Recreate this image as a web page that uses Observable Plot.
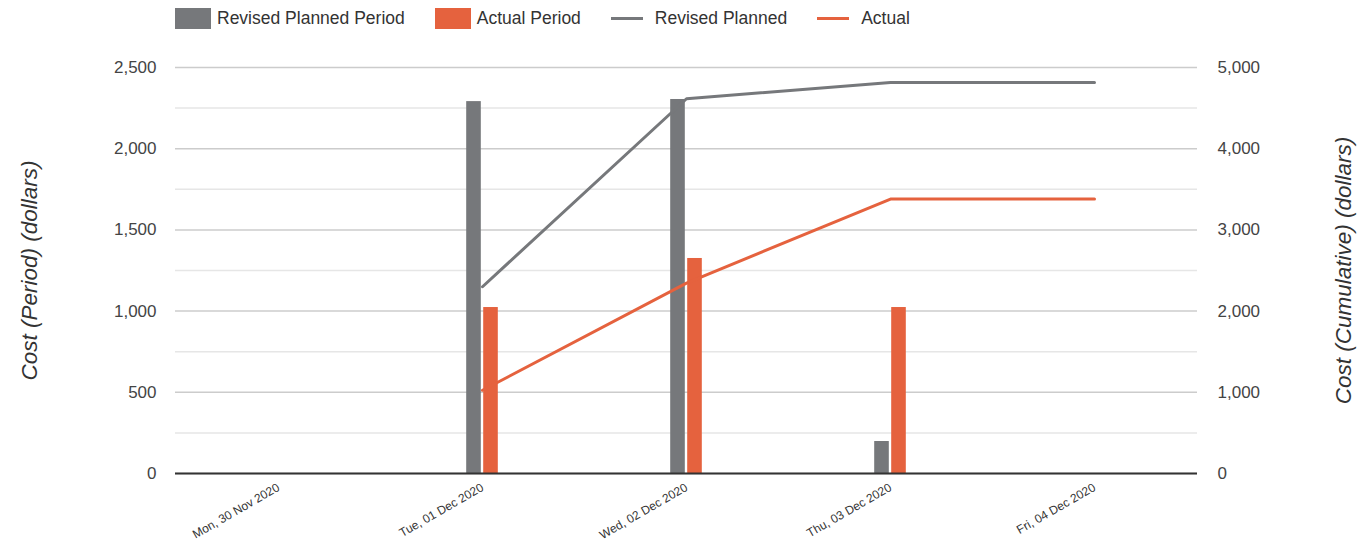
<!DOCTYPE html>
<html>
<head>
<meta charset="utf-8">
<script src="https://cdn.jsdelivr.net/npm/d3@7"></script>
<script src="https://cdn.jsdelivr.net/npm/@observablehq/plot@0.6"></script>
<style>
  body { margin: 0; background: #fff; font-family: "Liberation Sans", Arial, sans-serif; }
  #legend { position: relative; height: 36px; width: 1357px; display: flex; align-items: center; padding-left: 175px; box-sizing: border-box; font-size: 17.5px; color: #333; }
  .item { display: flex; align-items: center; margin-right: 30px; }
  .sq { width: 36px; height: 21px; margin-right: 6px; }
  .ln { width: 32px; height: 3px; margin-right: 12px; }
</style>
</head>
<body>
<div id="legend"></div>
<div id="chart"></div>
<script>
const dates = ["Mon, 30 Nov 2020", "Tue, 01 Dec 2020", "Wed, 02 Dec 2020", "Thu, 03 Dec 2020", "Fri, 04 Dec 2020"];
const revisedPlannedPeriod = [0, 2290, 2303, 197, 0];
const actualPeriod = [0, 1022, 1324, 1022, 0];
const revisedPlannedCumulative = [null, 2300, 4615, 4815, 4815];
const actualCumulative = [null, 1025, 2345, 3380, 3380];
const leftTicks = [0, 500, 1000, 1500, 2000, 2500];
const minorTicks = [250, 750, 1250, 1750, 2250];
const seriesNames = ["Revised Planned Period", "Actual Period", "Revised Planned", "Actual"];

const grey = "#76787b";
const orange = "#e5623e";

const rows = dates.map((d, i) => ({
  date: d,
  plannedPeriod: revisedPlannedPeriod[i],
  actualPeriod: actualPeriod[i],
  plannedCum: revisedPlannedCumulative[i],
  actualCum: actualCumulative[i]
}));

// legend
const legend = document.getElementById("legend");
const kinds = [["sq", grey], ["sq", orange], ["ln", grey], ["ln", orange]];
seriesNames.forEach((name, i) => {
  const it = document.createElement("div");
  it.className = "item";
  const sw = document.createElement("div");
  sw.className = kinds[i][0];
  sw.style.background = kinds[i][1];
  const t = document.createElement("span");
  t.textContent = name;
  it.appendChild(sw); it.appendChild(t);
  legend.appendChild(it);
});

const W = 1357, H = 506, mL = 175, mR = 160;
const bw = (W - mL - mR) / dates.length;
const fmt = d3.format(",");

const chart = Plot.plot({
  width: W, height: H,
  marginTop: 31, marginBottom: 69, marginLeft: mL, marginRight: mR,
  x: { type: "band", domain: dates, padding: 0, label: null },
  y: { domain: [0, 2500], label: null },
  style: { fontFamily: "'Liberation Sans', Arial, sans-serif", fontSize: "17px", color: "#444", background: "#fff" },
  marks: [
    Plot.gridY(minorTicks, { stroke: "#e6e6e6", strokeOpacity: 1, strokeWidth: 1.5 }),
    Plot.gridY(leftTicks, { stroke: "#cccccc", strokeOpacity: 1, strokeWidth: 1.5 }),
    Plot.axisY(leftTicks, { anchor: "left", tickSize: 0, tickPadding: 19, tickFormat: fmt, label: null, fontSize: 17, fill: "#444" }),
    Plot.axisY(leftTicks, { anchor: "right", tickSize: 0, tickPadding: 20, tickFormat: d => fmt(d * 2), label: null, fontSize: 17, fill: "#444" }),
    Plot.axisX({ tickRotate: -30, tickSize: 0, tickPadding: 13, fontSize: 12, label: null, fill: "#333" }),
    Plot.barY(rows, { x: "date", y: "plannedPeriod", fill: grey, insetLeft: bw / 2 - 16, insetRight: bw / 2 + 1 }),
    Plot.barY(rows, { x: "date", y: "actualPeriod", fill: orange, insetLeft: bw / 2 + 1, insetRight: bw / 2 - 16 }),
    Plot.ruleY([0], { stroke: "#333", strokeWidth: 2 }),
    Plot.line(rows, { filter: d => d.plannedCum != null, x: "date", y: d => d.plannedCum / 2, stroke: grey, strokeWidth: 3 }),
    Plot.line(rows, { filter: d => d.actualCum != null, x: "date", y: d => d.actualCum / 2, stroke: orange, strokeWidth: 3 }),
    Plot.text(["Cost (Period) (dollars)"], { frameAnchor: "left", rotate: -90, dx: -146, fontSize: 22.5, fontStyle: "italic", fill: "#333", textAnchor: "middle" }),
    Plot.text(["Cost (Cumulative) (dollars)"], { frameAnchor: "right", rotate: -90, dx: 146, fontSize: 22.5, fontStyle: "italic", fill: "#333", textAnchor: "middle" })
  ]
});
document.getElementById("chart").appendChild(chart);
</script>
</body>
</html>
